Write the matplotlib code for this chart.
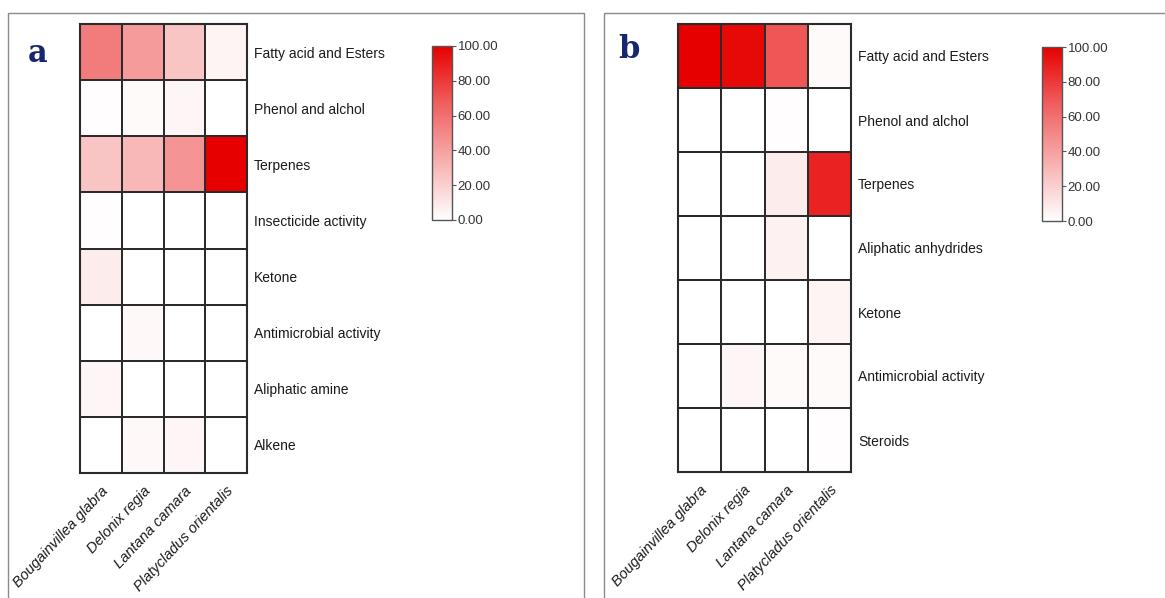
import numpy as np
import matplotlib
matplotlib.use("Agg")
import matplotlib.pyplot as plt
from matplotlib.colors import LinearSegmentedColormap
from matplotlib.patches import Rectangle

plt.rcParams['font.family'] = ['Liberation Sans', 'DejaVu Sans']

species = ['Bougainvillea glabra', 'Delonix regia', 'Lantana camara', 'Platycladus orientalis']

rows_a = ['Fatty acid and Esters', 'Phenol and alchol', 'Terpenes', 'Insecticide activity',
          'Ketone', 'Antimicrobial activity', 'Aliphatic amine', 'Alkene']
vals_a = [
    [55, 42, 25, 5],
    [1, 2, 4, 0],
    [25, 30, 45, 100],
    [1, 0, 0, 0],
    [8, 0, 0, 0],
    [0, 3, 0, 0],
    [4, 0, 0, 0],
    [0, 3, 4, 0],
]

rows_b = ['Fatty acid and Esters', 'Phenol and alchol', 'Terpenes', 'Aliphatic anhydrides',
          'Ketone', 'Antimicrobial activity', 'Steroids']
vals_b = [
    [100, 97, 70, 2],
    [0, 0, 1, 0],
    [0, 0, 8, 88],
    [0, 0, 6, 0],
    [0, 0, 0, 5],
    [0, 4, 2, 2],
    [0, 0, 0, 1],
]

cbar_ticks = [0, 20, 40, 60, 80, 100]

W, H = 1165, 598
cmap = LinearSegmentedColormap.from_list('wr', ['#ffffff', '#f7b0b0', '#f06060', '#e60000'])


def px(x0, y0, x1, y1):
    # pixel box (top-left origin) -> figure fraction rect
    return [x0 / W, 1 - y1 / H, (x1 - x0) / W, (y1 - y0) / H]


fig = plt.figure(figsize=(W / 100, H / 100), dpi=100)

# panel frames
for x0, x1 in [(8, 584), (604, 1180)]:
    fig.patches.append(Rectangle((x0 / W, -0.05), (x1 - x0) / W, 1.05 - 13 / H,
                                 transform=fig.transFigure, fill=False,
                                 edgecolor='#8a8a8a', linewidth=1.0))


def draw_panel(box, cbox, rows, vals, letter, letter_xy):
    ax = fig.add_axes(px(*box))
    data = np.array(vals, dtype=float)
    mesh = ax.pcolormesh(data, cmap=cmap, vmin=0, vmax=100,
                         edgecolors='#2b2b2b', linewidth=1.2)
    ax.set_xlim(0, data.shape[1])
    ax.set_ylim(data.shape[0], 0)
    ax.set_yticks(np.arange(len(rows)) + 0.5)
    ax.set_yticklabels(rows, fontsize=10, color='#1a1a1a')
    ax.yaxis.tick_right()
    ax.set_xticks(np.arange(len(species)) + 0.5)
    ax.set_xticklabels(species, rotation=47, ha='right', va='top',
                       rotation_mode='anchor', style='italic', fontsize=10.5, color='#1a1a1a')
    ax.tick_params(axis='y', length=0, pad=5)
    ax.tick_params(axis='x', length=0, pad=8)
    for s in ax.spines.values():
        s.set_edgecolor('#2b2b2b')
        s.set_linewidth(1.5)

    cax = fig.add_axes(px(*cbox))
    cb = fig.colorbar(mesh, cax=cax, ticks=cbar_ticks, format='%.2f')
    cb.outline.set_edgecolor('#555555')
    cb.outline.set_linewidth(1.0)
    cax.tick_params(length=3, width=0.8, color='#555555', labelsize=9.5,
                    labelcolor='#333333', pad=1)

    fig.text(letter_xy[0] / W, 1 - letter_xy[1] / H, letter, fontsize=22,
             fontweight='bold', family='DejaVu Serif', color='#16286b',
             ha='center', va='center')


draw_panel((80, 24, 247, 473), (432, 46, 452, 220), rows_a, vals_a, 'a', (38, 53))
draw_panel((678, 24, 851, 472), (1042, 47, 1062, 221), rows_b, vals_b, 'b', (629, 50))

fig.savefig('out.png', dpi=100)
